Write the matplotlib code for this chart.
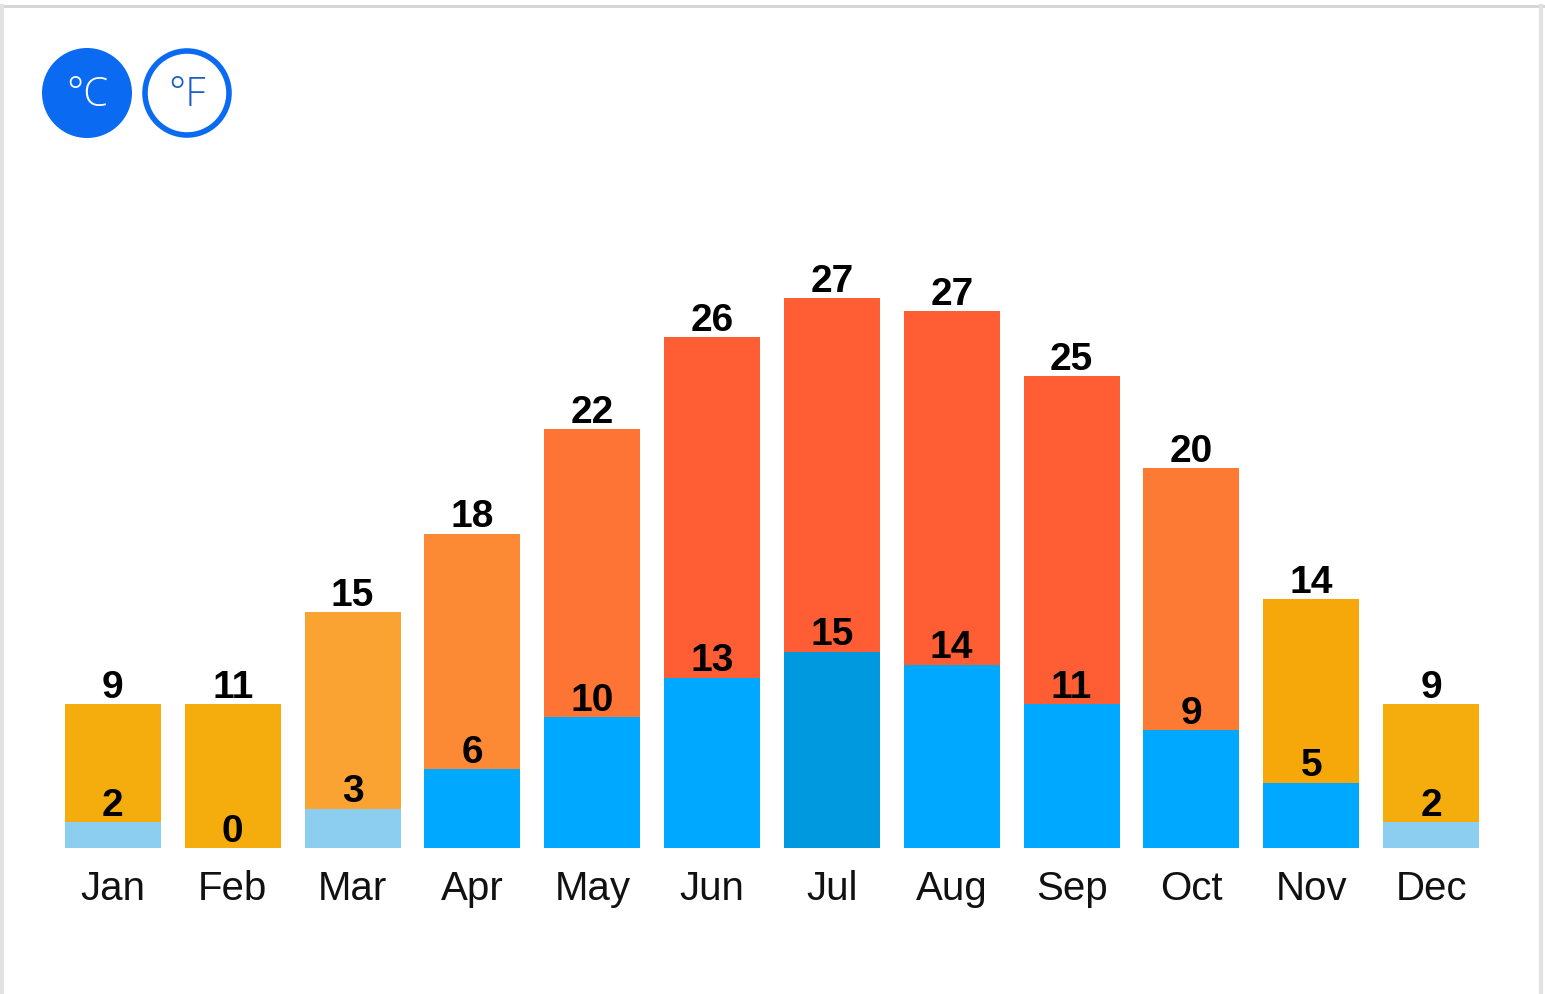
import matplotlib
matplotlib.use("Agg")
import matplotlib.pyplot as plt
from matplotlib.patches import Circle

months = ["Jan", "Feb", "Mar", "Apr", "May", "Jun", "Jul", "Aug", "Sep", "Oct", "Nov", "Dec"]
low_c = [2, 0, 3, 6, 10, 13, 15, 14, 11, 9, 5, 2]
high_c = [9, 11, 15, 18, 22, 26, 27, 27, 25, 20, 14, 9]

low_colors = ["#8ccef0", "#8ccef0", "#8ccef0", "#00a8ff", "#00a8ff", "#00a8ff",
              "#0099e0", "#00a8ff", "#00a8ff", "#00a8ff", "#00a8ff", "#8ccef0"]
high_colors = ["#f5ad0e", "#f5ad0e", "#fba332", "#fc8934", "#fd7434", "#ff5e35",
               "#ff5e35", "#ff5e35", "#ff5e35", "#fd7a34", "#f6a80b", "#f5ad0e"]

W, H = 1545, 994
fig = plt.figure(figsize=(W / 100, H / 100), dpi=100)
fig.patch.set_facecolor("white")

# main chart, baseline at y=848px, ~13.1 px per degree
ax = fig.add_axes([53 / W, (H - 848) / H, (1491 - 53) / W, 655 / H])
x = list(range(len(months)))
ax.bar(x, low_c, width=0.8, color=low_colors)
ax.bar(x, high_c, width=0.8, bottom=low_c, color=high_colors)
ax.set_xlim(-0.5, 11.5)
ax.set_ylim(0, 50)

for i in x:
    ax.annotate(str(high_c[i]), (i, low_c[i] + high_c[i]), xytext=(0, 4.5),
                textcoords="offset points", ha="center", va="baseline",
                fontsize=28, fontweight="bold", family="Liberation Sans", color="black")
    ax.annotate(str(low_c[i]), (i, low_c[i]), xytext=(0, 4.5),
                textcoords="offset points", ha="center", va="baseline",
                fontsize=28, fontweight="bold", family="Liberation Sans", color="black")

ax.set_xticks(x)
ax.set_xticklabels(months, fontsize=29, family="Liberation Sans", color="#111111")
ax.tick_params(axis="x", length=0, pad=16)
ax.set_yticks([])
for s in ax.spines.values():
    s.set_visible(False)

# overlay in pixel coords for frame and unit buttons
ov = fig.add_axes([0, 0, 1, 1], zorder=-1)
ov.set_xlim(0, W)
ov.set_ylim(H, 0)
ov.axis("off")
ov.plot([0, W], [6, 6], color="#d4d4d4", lw=2)
ov.plot([2, 2], [6, H], color="#e2e2e2", lw=3)
ov.plot([1541, 1541], [6, H], color="#e2e2e2", lw=3)

top = fig.add_axes([0, 0, 1, 1])
top.set_xlim(0, W)
top.set_ylim(H, 0)
top.axis("off")
top.add_patch(Circle((87, 93), 45, facecolor="#0a6af2", edgecolor="none"))
top.add_patch(Circle((187, 93), 42, facecolor="white", edgecolor="#0a6af2", lw=4))
top.text(87, 95, "°C", ha="center", va="center", fontsize=29, color="white",
         family="Open Sans", fontweight="light")
top.text(187, 95, "°F", ha="center", va="center", fontsize=29, color="#1a5fc4",
         family="Open Sans", fontweight="light")

fig.savefig("out.png", dpi=100, facecolor="white")
